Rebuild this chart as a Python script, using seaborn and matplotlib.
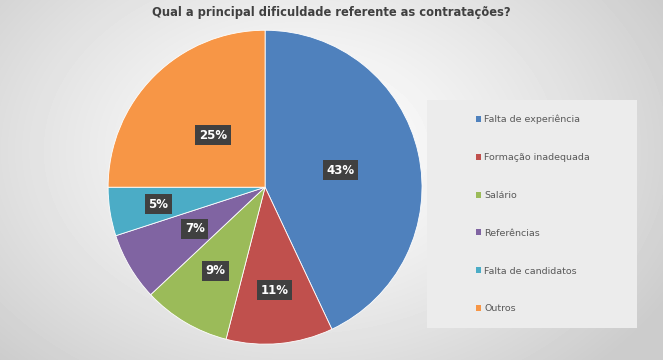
import numpy as np
import matplotlib
matplotlib.use("Agg")
import matplotlib.pyplot as plt
import seaborn as sns
from matplotlib.patches import Patch

sns.set_theme(style="white")
plt.rcParams['font.family'] = ['DejaVu Sans']

categories = ["Falta de experiência", "Formação inadequada", "Salário",
              "Referências", "Falta de candidatos", "Outros"]
values = [43, 11, 9, 7, 5, 25]
colors = ["#4F81BD", "#C0504D", "#9BBB59", "#8064A2", "#4BACC6", "#F79646"]
title = "Qual a principal dificuldade referente as contratações?"

fig = plt.figure(figsize=(6.63, 3.6), dpi=100)

# background radial gradient
bg = fig.add_axes([0, 0, 1, 1], zorder=-10)
yy, xx = np.mgrid[0:360, 0:663]
d = np.sqrt(((xx - 300) / 420.0) ** 2 + ((yy - 150) / 300.0) ** 2)
shade = np.clip(1.0 - 0.2 * d ** 1.3, 0.8, 1.0)
bg.imshow(shade, cmap="gray", vmin=0, vmax=1, aspect="auto", extent=[0, 1, 0, 1])
bg.set_axis_off()

ax = fig.add_axes([0.163, 0.044, 0.4736, 0.872])
ax.set_facecolor("none")
wedges, texts, autotexts = ax.pie(values, colors=colors, startangle=90, counterclock=False,
                                  autopct="%d%%", pctdistance=0.6,
                                  wedgeprops=dict(linewidth=0.6, edgecolor="white"),
                                  textprops=dict(color="white", fontsize=8.5, fontweight="bold"))
dists = [0.49, 0.66, 0.62, 0.52, 0.69, 0.47]
for w, t, dd in zip(wedges, autotexts, dists):
    ang = np.deg2rad((w.theta1 + w.theta2) / 2)
    t.set_position((dd * np.cos(ang), dd * np.sin(ang)))
    t.set_bbox(dict(boxstyle="square,pad=0.3", facecolor="#404040", edgecolor="none"))
ax.set_aspect("equal")
ax.set_xlim(-1, 1)
ax.set_ylim(-1, 1)

fig.text(0.5, 0.964, title, ha="center", va="center", fontsize=8.3,
         fontweight="bold", color="#404040")

# legend background box
fig.patches.append(plt.Rectangle((427 / 663, 1 - 328 / 360), 210 / 663, 228 / 360,
                                 transform=fig.transFigure, facecolor="#ececec",
                                 edgecolor="none", zorder=0))
handles = [Patch(facecolor=c, edgecolor="none") for c in colors]
leg = fig.legend(handles, categories, loc="upper left",
                 bbox_to_anchor=(472 / 663, 1 - 111 / 360), frameon=False,
                 fontsize=6.8, labelcolor="#595959", handlelength=0.6, handleheight=0.6,
                 handletextpad=0.3, labelspacing=3.05, borderaxespad=0)

fig.savefig("out.png", dpi=100)
